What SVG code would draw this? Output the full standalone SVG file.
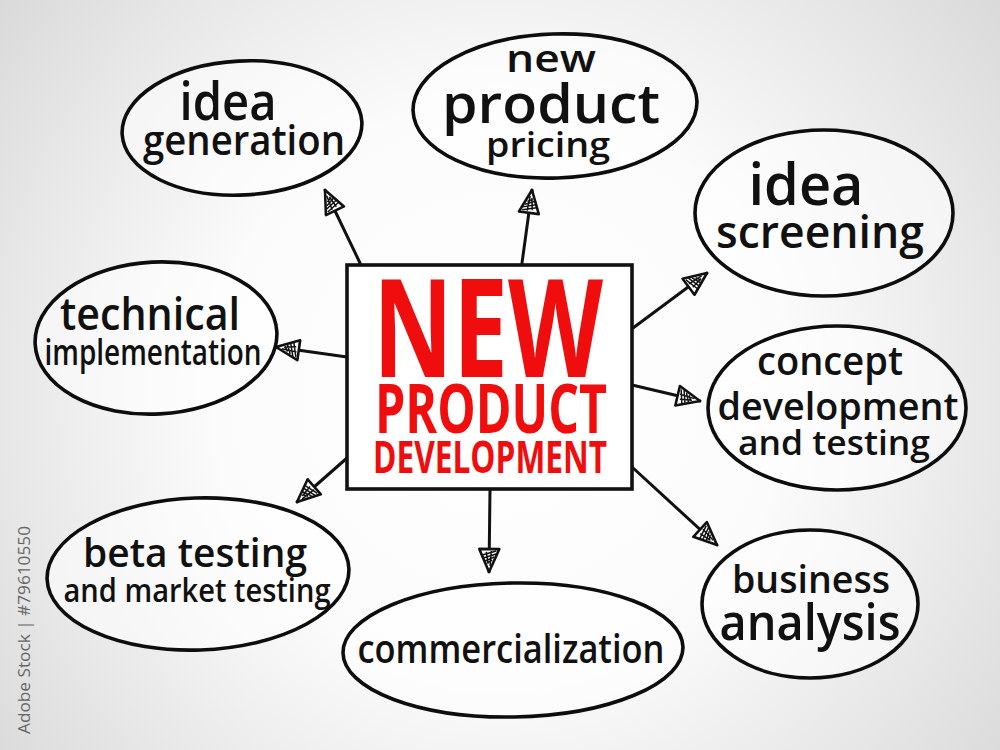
<svg xmlns="http://www.w3.org/2000/svg" width="1000" height="750" viewBox="0 0 1000 750">
<defs>
<radialGradient id="bg" cx="500" cy="390" r="640" gradientUnits="userSpaceOnUse">
<stop offset="0" stop-color="#ffffff"/>
<stop offset="0.45" stop-color="#fbfbfb"/>
<stop offset="1" stop-color="#d9d9d9"/>
</radialGradient>
<marker id="ah" viewBox="0 0 26 24" refX="25" refY="12" markerWidth="26" markerHeight="24" markerUnits="userSpaceOnUse" orient="auto">
<path d="M2,2 L25,12 L2,22 Z" fill="#ffffff" stroke="#111" stroke-width="2.6" stroke-linejoin="round"/>
<path d="M4,5 L8,19 M7,5 L11,18 M10,7 L14,16 M13,9 L16,14 M4,10 L19,11 M5,15 L17,13" fill="none" stroke="#111" stroke-width="1.5"/>
</marker>
<style>
.bub{fill:#ffffff;fill-opacity:0.55;stroke:#0d0d0d;stroke-width:3.6}
.t{font-family:"Open Sans","Liberation Sans",sans-serif;font-weight:600;fill:#111;text-anchor:middle}
.r{font-family:"Open Sans","Liberation Sans",sans-serif;font-weight:700;fill:#f00d0d;text-anchor:middle}
.con{stroke:#111;stroke-width:3;fill:none;stroke-linecap:round}
</style>
</defs>
<rect width="1000" height="750" fill="url(#bg)"/>

<text x="30" y="630" transform="rotate(-90 30 630)" font-family="'Open Sans','Liberation Sans',sans-serif" font-size="17" fill="#666" text-anchor="middle" textLength="208" lengthAdjust="spacingAndGlyphs">Adobe Stock | #79610550</text>

<g id="connectors">
<line class="con" x1="360" y1="263" x2="325" y2="190" marker-end="url(#ah)"/>
<line class="con" x1="522" y1="263" x2="532" y2="190" marker-end="url(#ah)"/>
<line class="con" x1="633" y1="328" x2="707" y2="273" marker-end="url(#ah)"/>
<line class="con" x1="632" y1="385" x2="700" y2="401" marker-end="url(#ah)"/>
<line class="con" x1="632" y1="467" x2="717" y2="545" marker-end="url(#ah)"/>
<line class="con" x1="490" y1="490" x2="489" y2="572" marker-end="url(#ah)"/>
<line class="con" x1="347" y1="357" x2="276" y2="347" marker-end="url(#ah)"/>
<line class="con" x1="347" y1="458" x2="297" y2="502" marker-end="url(#ah)"/>
</g>

<g id="center">
<rect x="347" y="265" width="285" height="224" fill="#ffffff" stroke="#111" stroke-width="3.6"/>
<text class="r" x="488" y="377" font-size="136" textLength="230" lengthAdjust="spacingAndGlyphs">NEW</text>
<text class="r" x="491" y="433" font-size="68" font-weight="600" textLength="232" lengthAdjust="spacingAndGlyphs">PRODUCT</text>
<text class="r" x="490" y="473" font-size="45" font-weight="600" textLength="234" lengthAdjust="spacingAndGlyphs">DEVELOPMENT</text>
</g>

<g id="idea-generation">
<ellipse class="bub" cx="242" cy="128" rx="120" ry="67" transform="rotate(-3 242 128)"/>
<text class="t" x="228" y="120" font-size="52" textLength="97" lengthAdjust="spacingAndGlyphs">idea</text>
<text class="t" x="244" y="155" font-size="42" textLength="202" lengthAdjust="spacingAndGlyphs">generation</text>
</g>

<g id="new-product-pricing">
<ellipse class="bub" cx="555" cy="106" rx="142" ry="72" transform="rotate(-2 555 106)"/>
<text class="t" x="551" y="72" font-size="38" textLength="90" lengthAdjust="spacingAndGlyphs">new</text>
<text class="t" x="551" y="123" font-size="54" textLength="218" lengthAdjust="spacingAndGlyphs">product</text>
<text class="t" x="548" y="157" font-size="35" textLength="124" lengthAdjust="spacingAndGlyphs">pricing</text>
</g>

<g id="idea-screening">
<ellipse class="bub" cx="824" cy="213" rx="129" ry="83"/>
<text class="t" x="806" y="205" font-size="58" textLength="115" lengthAdjust="spacingAndGlyphs">idea</text>
<text class="t" x="820" y="248" font-size="46" textLength="208" lengthAdjust="spacingAndGlyphs">screening</text>
</g>

<g id="technical-implementation">
<ellipse class="bub" cx="156" cy="338" rx="121" ry="76" transform="rotate(-3 156 338)"/>
<text class="t" x="150" y="330" font-size="46" textLength="180" lengthAdjust="spacingAndGlyphs">technical</text>
<text class="t" x="153" y="365" font-size="36" textLength="217" lengthAdjust="spacingAndGlyphs">implementation</text>
</g>

<g id="concept-development">
<ellipse class="bub" cx="837" cy="408" rx="129" ry="82"/>
<text class="t" x="830" y="375" font-size="40" textLength="146" lengthAdjust="spacingAndGlyphs">concept</text>
<text class="t" x="838" y="420" font-size="38" textLength="241" lengthAdjust="spacingAndGlyphs">development</text>
<text class="t" x="834" y="455" font-size="34" textLength="192" lengthAdjust="spacingAndGlyphs">and testing</text>
</g>

<g id="business-analysis">
<ellipse class="bub" cx="810" cy="604" rx="108" ry="74"/>
<text class="t" x="811" y="593" font-size="38" textLength="158" lengthAdjust="spacingAndGlyphs">business</text>
<text class="t" x="810" y="640" font-size="50" textLength="181" lengthAdjust="spacingAndGlyphs">analysis</text>
</g>

<g id="commercialization">
<ellipse class="bub" cx="513" cy="650" rx="170" ry="67" transform="rotate(-1 513 650)"/>
<text class="t" x="511" y="663" font-size="40" textLength="307" lengthAdjust="spacingAndGlyphs">commercialization</text>
</g>

<g id="beta-testing">
<ellipse class="bub" cx="198" cy="574" rx="151" ry="76" transform="rotate(-2 198 574)"/>
<text class="t" x="195" y="567" font-size="40" textLength="224" lengthAdjust="spacingAndGlyphs">beta testing</text>
<text class="t" x="197" y="602" font-size="33" textLength="267" lengthAdjust="spacingAndGlyphs">and market testing</text>
</g>
</svg>
